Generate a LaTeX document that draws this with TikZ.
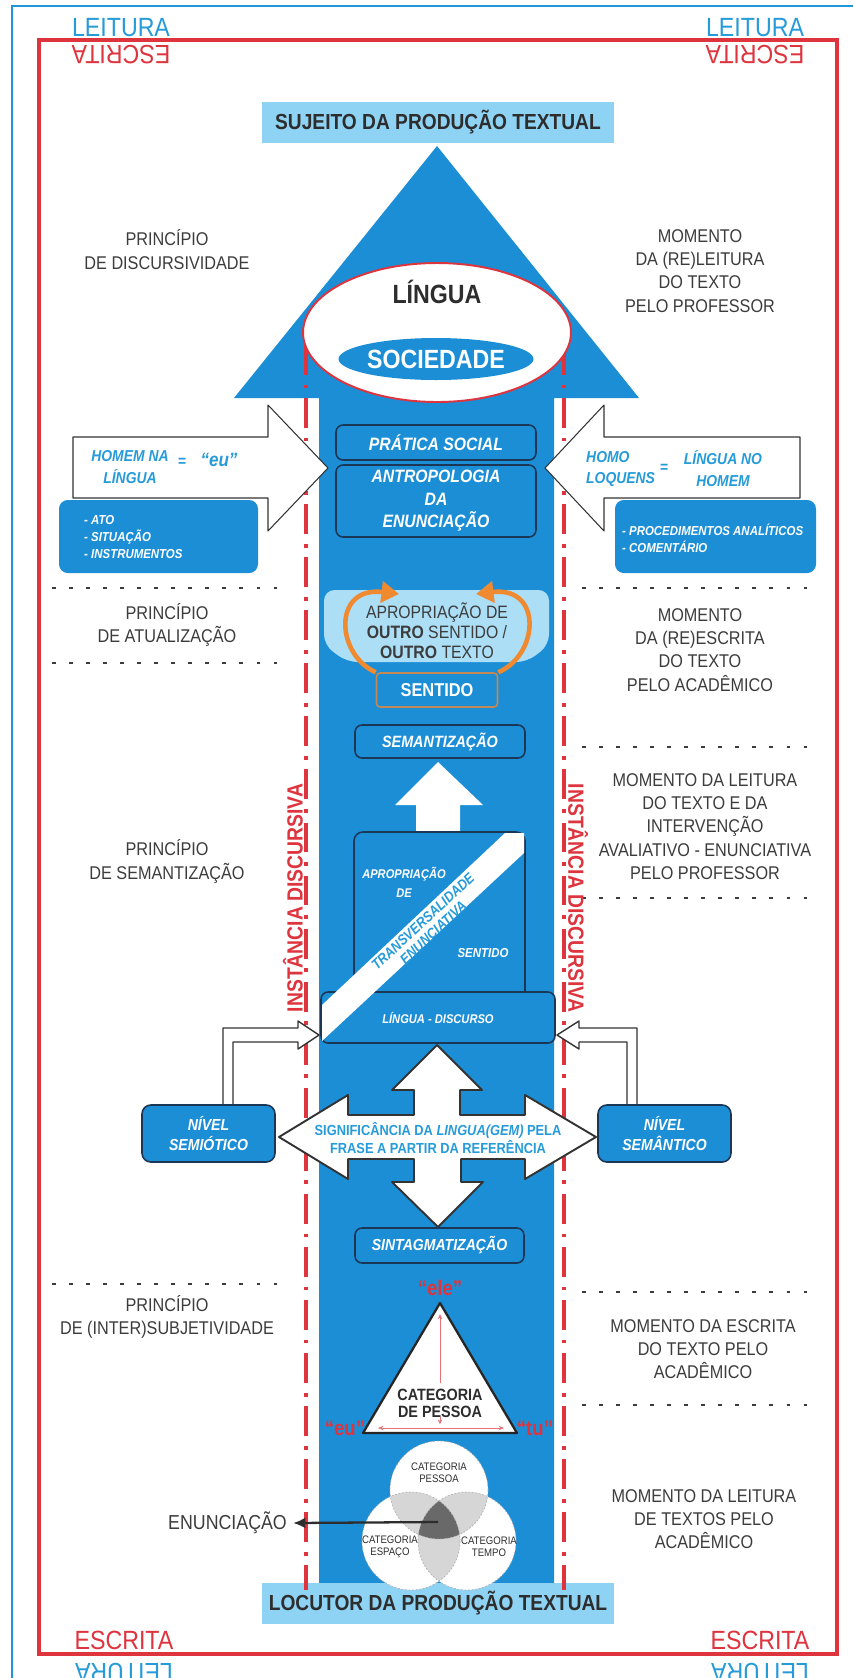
\documentclass[tikz,border=0pt]{standalone}
\usepackage{fontspec}
\setmainfont{Liberation Sans}[FakeStretch=0.88]
\usetikzlibrary{arrows.meta,shapes.geometric}

\definecolor{mainblue}{RGB}{27,142,214}
\definecolor{lightblue}{RGB}{143,211,244}
\definecolor{paleblue}{RGB}{172,222,246}
\definecolor{textblue}{RGB}{38,155,218}
\definecolor{frameblue}{RGB}{30,150,215}
\definecolor{framered}{RGB}{222,52,62}
\definecolor{navy}{RGB}{28,55,85}
\definecolor{textgray}{RGB}{60,60,60}
\definecolor{inkgray}{RGB}{45,45,45}
\definecolor{arroworange}{RGB}{240,138,48}
\definecolor{sentidoedge}{RGB}{196,136,84}
\definecolor{venngray}{RGB}{214,214,214}
\definecolor{venndark}{RGB}{105,105,105}

\newcommand{\fsz}[2]{\fontsize{#1}{#2}\selectfont}

\begin{document}
\begin{tikzpicture}[x=0.02cm,y=-0.02cm,
  side text/.style={text=textgray,align=center,font=\fsz{10.5}{13.2}},
  dark box/.style={draw=navy,line width=0.9pt,fill=mainblue,rounded corners=4pt,inner sep=0pt,text=white,align=center,font=\bfseries\itshape\fsz{10.2}{12.8}},
  info box/.style={fill=mainblue,rounded corners=5pt},
  info text/.style={anchor=west,text=white,align=left,font=\bfseries\itshape\fsz{7.4}{9.4}},
  arrow text/.style={text=textblue,align=center,font=\bfseries\itshape\fsz{9}{12.5}},
  white arrow/.style={fill=white,draw=black!80,line width=0.6pt,line join=round},
  dotted rule/.style={draw=textgray,line width=1.3pt,dash pattern=on 2.2pt off 7.5pt},
  dash dot rule/.style={draw=framered,line width=2.2pt,dash pattern=on 17pt off 5.5pt on 2.2pt off 5.5pt},
  corner text/.style={font=\fsz{15}{18}},
  title box/.style={fill=lightblue,text=inkgray,inner sep=0pt,minimum width=7.04cm,minimum height=0.82cm,font=\bfseries\fsz{12.4}{15}},
  quote/.style={text=framered,font=\bfseries\fsz{12}{14}},
  venn text/.style={text=inkgray,align=center,font=\fsz{6.2}{6.8}},
  side label/.style={text=framered,font=\bfseries\fsz{12.5}{15}},
  orange arrow/.style={draw=arroworange,line width=2.6pt,-{Triangle[length=10pt,width=12pt]}},
  red guide/.style={draw=framered!70,line width=0.5pt},
  venn edge/.style={draw=gray!60,line width=0.4pt,dash pattern=on 1pt off 1pt}
]
\useasboundingbox (0,0) rectangle (853,1678);
\clip (0,0) rectangle (853,1678);
\fill[white] (0,0) rectangle (853,1678);

% frames
\draw[frameblue,line width=1.4pt] (12,6) rectangle (870,1700);
\draw[framered,line width=2pt] (39,40) rectangle (837,1654);

\node[corner text,text=textblue] (leitura tl) at (121,27.5) {LEITURA};
\node[corner text,text=framered,rotate=180] (escrita tl) at (121,55) {ESCRITA};
\node[corner text,text=textblue] (leitura tr) at (755,27.5) {LEITURA};
\node[corner text,text=framered,rotate=180] (escrita tr) at (755,55) {ESCRITA};
\node[corner text,text=framered] (escrita bl) at (124,1640) {ESCRITA};
\node[corner text,text=textblue,rotate=180] (leitura bl) at (124,1672) {LEITURA};
\node[corner text,text=framered] (escrita br) at (760,1640) {ESCRITA};
\node[corner text,text=textblue,rotate=180] (leitura br) at (760,1672) {LEITURA};

% big arrow
\node[title box] (sujeito) at (438,122.5) {SUJEITO DA PRODUÇÃO TEXTUAL};
\fill[mainblue] (437,146) -- (639,398) -- (554,398) -- (554,1583) -- (319,1583) -- (319,398) -- (234,398) -- cycle;
\node[title box] (locutor) at (438,1603.5) {LOCUTOR DA PRODUÇÃO TEXTUAL};

\draw[dash dot rule] (306,345) -- (306,1590);
\draw[dash dot rule] (564,345) -- (564,1590);

\node[ellipse,draw=framered,line width=1.1pt,fill=white,minimum width=5.36cm,minimum height=2.78cm] (lingua ring) at (437,332.5) {};
\node[text=inkgray,font=\bfseries\fsz{15}{17}] (lingua) at (437,292) {LÍNGUA};
\node[ellipse,fill=mainblue,inner sep=0pt,minimum width=3.6cm,minimum height=0.84cm,text=white,font=\bfseries\fsz{15}{17}] (sociedade) at (436,359) {SOCIEDADE};

% side arrows
\draw[white arrow] (73,437) -- (268,437) -- (268,405) -- (328,468) -- (268,531) -- (268,498) -- (73,498) -- cycle;
\draw[white arrow] (800,437) -- (604,437) -- (604,405) -- (545,468) -- (604,531) -- (604,498) -- (800,498) -- cycle;
\node[arrow text] (homem) at (130,467) {HOMEM NA\\LÍNGUA};
\node[arrow text] (eq left) at (182,462) {=};
\node[arrow text,font=\bfseries\itshape\fsz{11}{13}] (eu top) at (219,460) {“eu”};
\node[arrow text,align=left,anchor=west] (homo) at (580,469) {HOMO\\LOQUENS};
\node[arrow text] (eq right) at (664,468) {=};
\node[arrow text] (lingua homem) at (723,469) {LÍNGUA NO\\HOMEM};

\fill[info box] (59,500) rectangle (258,573);
\node[info text] (ato) at (78,537) {- ATO\\- SITUAÇÃO\\- INSTRUMENTOS};
\fill[info box] (615,500) rectangle (816,573);
\node[info text] (procedimentos) at (616,538.5) {- PROCEDIMENTOS ANALÍTICOS\\- COMENTÁRIO};

\node[dark box,minimum width=4.0cm,minimum height=0.7cm] (pratica) at (436,442.5) {PRÁTICA SOCIAL};
\node[dark box,minimum width=4.0cm,minimum height=1.44cm] (antropologia) at (436,501) {ANTROPOLOGIA\\DA\\ENUNCIAÇÃO};

% rules and side texts
\draw[dotted rule] (52,588) -- (283,588);
\draw[dotted rule] (52,663) -- (283,663);
\draw[dotted rule] (52,1284) -- (283,1284);
\draw[dotted rule] (582,588) -- (815,588);
\draw[dotted rule] (582,747) -- (815,747);
\draw[dotted rule] (582,898) -- (815,898);
\draw[dotted rule] (582,1292) -- (815,1292);
\draw[dotted rule] (582,1405) -- (815,1405);

\node[side text] (discursividade) at (167,249.5) {PRINCÍPIO\\DE DISCURSIVIDADE};
\node[side text] (releitura) at (700,271) {MOMENTO\\DA (RE)LEITURA\\DO TEXTO\\PELO PROFESSOR};
\node[side text] (atualizacao) at (167,625) {PRINCÍPIO\\DE ATUALIZAÇÃO};
\node[side text] (reescrita) at (700,650) {MOMENTO\\DA (RE)ESCRITA\\DO TEXTO\\PELO ACADÊMICO};
\node[side text] (semantizacao side) at (167,861.5) {PRINCÍPIO\\DE SEMANTIZAÇÃO};
\node[side text] (intervencao) at (705,826.5) {MOMENTO DA LEITURA\\DO TEXTO E DA\\INTERVENÇÃO\\AVALIATIVO - ENUNCIATIVA\\PELO PROFESSOR};
\node[side text] (subjetividade) at (167,1316.5) {PRINCÍPIO\\DE (INTER)SUBJETIVIDADE};
\node[side text] (escrita texto) at (703,1349) {MOMENTO DA ESCRITA\\DO TEXTO PELO\\ACADÊMICO};
\node[side text] (leitura textos) at (704,1519) {MOMENTO DA LEITURA\\DE TEXTOS PELO\\ACADÊMICO};

% apropriacao
\fill[paleblue,rounded corners=6pt] (324,590) -- (549,590) -- (549,645) -- (527,662) -- (347,662) -- (324,645) -- cycle;
\node[dark box,draw=sentidoedge,rounded corners=2pt,font=\bfseries\fsz{10.6}{12},minimum width=2.42cm,minimum height=0.68cm] (sentido) at (437,690) {SENTIDO};
\draw[orange arrow] (sentido.north west) .. controls (336,655) and (332,586) .. (399,594);
\draw[orange arrow] (sentido.north east) .. controls (539,655) and (543,586) .. (476,594);
\node[text=textgray,align=center,font=\fsz{10.2}{11.4}] (outro) at (437,631) {APROPRIAÇÃO DE\\\textbf{OUTRO} SENTIDO /\\\textbf{OUTRO} TEXTO};

\node[dark box,minimum width=3.4cm,minimum height=0.66cm,font=\bfseries\itshape\fsz{9.3}{11}] (semantizacao) at (440,741.5) {SEMANTIZAÇÃO};
\fill[white] (416,832) -- (416,805) -- (395,805) -- (438,762) -- (483,805) -- (460,805) -- (460,832) -- cycle;

% transversalidade
\draw[draw=navy,line width=0.9pt,fill=mainblue,rounded corners=5pt] (354,832) rectangle (525,1000);
\node[dark box,minimum width=4.68cm,minimum height=1.02cm,font=\bfseries\itshape\fsz{7.2}{9}] (discurso) at (438,1017.5) {LÍNGUA - DISCURSO};
\fill[white] (322,1041) -- (322,1005) -- (505,833) -- (524,833) -- (524,853) -- cycle;
\node[text=textblue,align=center,rotate=43,font=\bfseries\itshape\fsz{8.2}{8.6}] (transversal) at (428,927) {TRANSVERSALIDADE\\ENUNCIATIVA};
\node[text=white,align=center,font=\bfseries\itshape\fsz{7.2}{10.5}] (apropriacao) at (404,882.5) {APROPRIAÇÃO\\DE};
\node[text=white,font=\bfseries\itshape\fsz{7.4}{9}] (sentido small) at (483,953) {SENTIDO};

% niveis
\draw[white arrow,line width=0.8pt] (223,1105) -- (223,1028) -- (298,1028) -- (298,1021) -- (319,1035) -- (298,1049) -- (298,1042) -- (233,1042) -- (233,1105) -- cycle;
\draw[white arrow,line width=0.8pt] (637,1105) -- (637,1028) -- (579,1028) -- (579,1021) -- (557,1035) -- (579,1049) -- (579,1042) -- (627,1042) -- (627,1105) -- cycle;
\node[dark box,rounded corners=5pt,minimum width=2.66cm,minimum height=1.14cm,font=\bfseries\itshape\fsz{9.1}{11}] (semiotico) at (208.5,1133.5) {NÍVEL\\SEMIÓTICO};
\node[dark box,rounded corners=5pt,minimum width=2.66cm,minimum height=1.14cm,font=\bfseries\itshape\fsz{9.1}{11}] (semantico) at (664.5,1133.5) {NÍVEL\\SEMÂNTICO};

\draw[white arrow,line width=1.1pt] (437,1045) -- (482,1090) -- (460,1090) -- (460,1115) -- (525,1115) -- (525,1095) -- (596,1137) -- (525,1179) -- (525,1159) -- (461,1159) -- (461,1182) -- (483,1182) -- (438,1227) -- (392,1182) -- (414,1182) -- (414,1159) -- (348,1159) -- (348,1179) -- (279,1137) -- (348,1095) -- (348,1115) -- (414,1115) -- (414,1090) -- (392,1090) -- cycle;
\node[text=textblue,align=center,font=\bfseries\fsz{8.3}{10.2}] (significancia) at (438,1138) {SIGNIFICÂNCIA DA \textit{LINGUA(GEM)} PELA\\FRASE A PARTIR DA REFERÊNCIA};

\node[dark box,minimum width=3.38cm,minimum height=0.7cm,font=\bfseries\itshape\fsz{9.1}{11}] (sintagmatizacao) at (439.5,1245.5) {SINTAGMATIZAÇÃO};

% categoria de pessoa
\draw[fill=white,draw=black!85,line width=1.3pt,line join=round] (440,1303) -- (517,1433) -- (363,1433) -- cycle;
\draw[red guide,-{Stealth[length=3pt,width=2.5pt]}] (440,1383) -- (440,1314);
\draw[red guide,-{Stealth[length=2.5pt,width=2.5pt]}] (440,1417) -- (440,1424);
\draw[red guide,{Stealth[length=3pt,width=2.5pt]}-{Stealth[length=3pt,width=2.5pt]}] (378,1428) -- (504,1428);
\node[text=inkgray,align=center,font=\bfseries\fsz{9.3}{9.7}] (categoria) at (440,1403.5) {CATEGORIA\\DE PESSOA};
\node[quote] (ele) at (440,1288) {“ele”};
\node[quote] (eu) at (345,1428) {“eu”};
\node[quote] (tu) at (535,1428) {“tu”};

% venn
\coordinate (vp) at (439,1490);
\coordinate (ve) at (411,1541);
\coordinate (vt) at (467,1541);
\fill[white] (vp) circle [radius=0.98cm] (ve) circle [radius=0.98cm] (vt) circle [radius=0.98cm];
\begin{scope}
  \clip (vp) circle [radius=0.98cm];
  \fill[venngray] (ve) circle [radius=0.98cm] (vt) circle [radius=0.98cm];
\end{scope}
\begin{scope}
  \clip (ve) circle [radius=0.98cm];
  \fill[venngray] (vt) circle [radius=0.98cm];
\end{scope}
\begin{scope}
  \clip (vp) circle [radius=0.98cm];
  \clip (ve) circle [radius=0.98cm];
  \fill[venndark] (vt) circle [radius=0.98cm];
\end{scope}
\draw[venn edge] (vp) circle [radius=0.98cm] (ve) circle [radius=0.98cm] (vt) circle [radius=0.98cm];
\node[venn text] (cat pessoa) at (439,1473) {CATEGORIA\\PESSOA};
\node[venn text] (cat espaco) at (390,1547) {CATEGORIA\\ESPAÇO};
\node[venn text] (cat tempo) at (489,1547) {CATEGORIA\\TEMPO};
\coordinate (venn core) at (438,1522);
\node[side text,anchor=east,font=\fsz{11.5}{13}] (enunciacao) at (293,1523) {ENUNCIAÇÃO};
\draw[draw=inkgray,line width=1.3pt,-{Latex[length=7pt,width=6pt]}] (venn core) -- (enunciacao.east);

% instancia discursiva
\node[side label,rotate=90] (instancia left) at (293,898) {INSTÂNCIA DISCURSIVA};
\node[side label,rotate=-90] (instancia right) at (578,898) {INSTÂNCIA DISCURSIVA};

\end{tikzpicture}
\end{document}
